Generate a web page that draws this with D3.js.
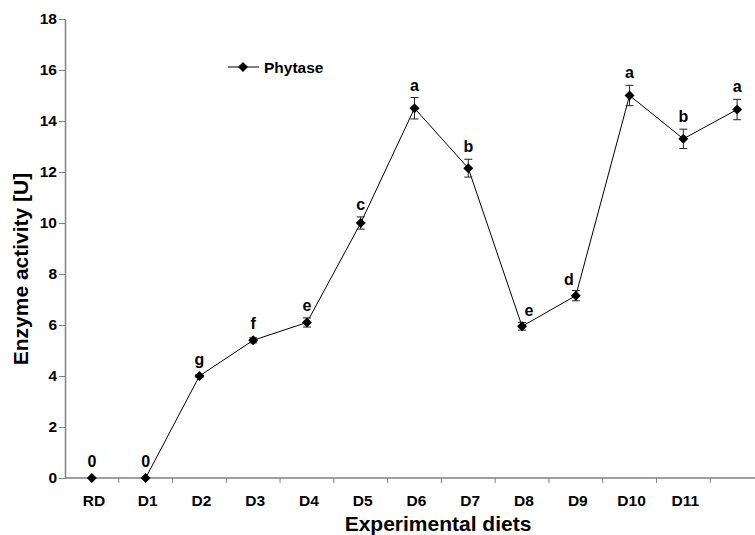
<!DOCTYPE html>
<html>
<head>
<meta charset="utf-8">
<script src="https://cdn.jsdelivr.net/npm/d3@7"></script>
<style>
  html, body { margin: 0; padding: 0; background: #fff; }
  svg { display: block; font-family: "Liberation Sans", Arial, sans-serif; }
</style>
</head>
<body>
<svg id="chart" width="755" height="535"></svg>
<script>
const categories = ["RD", "D1", "D2", "D3", "D4", "D5", "D6", "D7", "D8", "D9", "D10", "D11", ""];
const values     = [0, 0, 4.0, 5.4, 6.1, 10.0, 14.5, 12.15, 5.95, 7.15, 15.0, 13.3, 14.45];
const errors     = [0, 0, 0.05, 0.1, 0.18, 0.24, 0.42, 0.35, 0.15, 0.2, 0.4, 0.38, 0.4];
const letters    = ["0", "0", "g", "f", "e", "c", "a", "b", "e", "d", "a", "b", "a"];
const letterDx   = [0, 0, 0, 0, 0, 0, 0, 0, 7, -7, 0, 0, 0];
const yTicks     = [0, 2, 4, 6, 8, 10, 12, 14, 16, 18];
const seriesName = "Phytase";

const svg = d3.select("#chart");
const x = d3.scaleBand().domain(categories.map((c, i) => i)).range([65, 764]).padding(0);
const y = d3.scaleLinear().domain([0, 18]).range([478, 19]);
const cx = i => x(i) + x.bandwidth() / 2;
const axisColor = "#808080";

// Y axis
const yAxis = svg.append("g").attr("transform", "translate(65,0)")
  .call(d3.axisLeft(y).tickValues(yTicks).tickSize(6).tickPadding(2).tickSizeOuter(0));
yAxis.select(".domain").attr("stroke", axisColor).attr("stroke-width", 1.5);
yAxis.selectAll(".tick line").attr("stroke", axisColor);
yAxis.selectAll(".tick text").attr("font-size", 15.5).attr("font-weight", "bold")
  .attr("fill", "#000").attr("font-family", "Liberation Sans, Arial, sans-serif");

// X axis: ticks at band boundaries
const xAxisG = svg.append("g").attr("transform", "translate(0,478)");
xAxisG.append("line").attr("x1", 65).attr("x2", 764).attr("y1", 0).attr("y2", 0)
  .attr("stroke", axisColor).attr("stroke-width", 1.5);
const bounds = categories.map((c, i) => x(i)).slice(1);
xAxisG.selectAll(".xt").data(bounds).join("line")
  .attr("x1", d => d).attr("x2", d => d).attr("y1", 0).attr("y2", 5)
  .attr("stroke", axisColor);
xAxisG.selectAll(".xl").data(categories).join("text")
  .attr("x", (d, i) => cx(i) + 2).attr("y", 28)
  .attr("text-anchor", "middle").attr("font-size", 15.5).attr("font-weight", "bold")
  .text(d => d);

// Axis titles
svg.append("text").attr("x", 438).attr("y", 531).attr("text-anchor", "middle")
  .attr("font-size", 21).attr("font-weight", "bold").text("Experimental diets");
svg.append("text").attr("transform", "translate(28,269) rotate(-90)").attr("text-anchor", "middle")
  .attr("font-size", 21).attr("font-weight", "bold").text("Enzyme activity [U]");

// Line (starting from D1)
const line = d3.line().x(d => cx(d.i)).y(d => y(d.v));
const pts = values.map((v, i) => ({ v, i, e: errors[i] }));
svg.append("path").datum(pts.slice(1)).attr("d", line)
  .attr("fill", "none").attr("stroke", "#000").attr("stroke-width", 1);

// Error bars
const eb = svg.append("g").attr("stroke", "#222").attr("stroke-width", 1);
pts.filter(d => d.e > 0).forEach(d => {
  const x0 = cx(d.i), yt = y(d.v + d.e), yb = y(d.v - d.e);
  eb.append("line").attr("x1", x0).attr("x2", x0).attr("y1", yt).attr("y2", yb);
  eb.append("line").attr("x1", x0 - 4).attr("x2", x0 + 4).attr("y1", yt).attr("y2", yt);
  eb.append("line").attr("x1", x0 - 4).attr("x2", x0 + 4).attr("y1", yb).attr("y2", yb);
});

// Markers (square diamonds)
const diamond = "M0,-5L5,0L0,5L-5,0Z";
svg.append("g").selectAll("path").data(pts).join("path")
  .attr("d", diamond).attr("transform", d => `translate(${cx(d.i)},${y(d.v)})`)
  .attr("fill", "#000");

// Letters
svg.append("g").selectAll("text").data(pts).join("text")
  .attr("x", d => cx(d.i) + letterDx[d.i])
  .attr("y", d => {
    if (letterDx[d.i] > 0) return y(d.v) - 10;
    if (letterDx[d.i] < 0) return y(d.v) - 11;
    return Math.min(y(d.v + d.e) - 7, y(d.v) - 11);
  })
  .attr("text-anchor", "middle").attr("font-size", 16).attr("font-weight", "bold")
  .text(d => letters[d.i]);

// Legend
const lg = svg.append("g");
lg.append("line").attr("x1", 228).attr("x2", 259).attr("y1", 67).attr("y2", 67)
  .attr("stroke", "#000").attr("stroke-width", 1);
lg.append("path").attr("d", diamond).attr("transform", "translate(243,67)").attr("fill", "#000");
lg.append("text").attr("x", 264).attr("y", 72.5).attr("font-size", 15.5).attr("font-weight", "bold")
  .text(seriesName);
</script>
</body>
</html>
